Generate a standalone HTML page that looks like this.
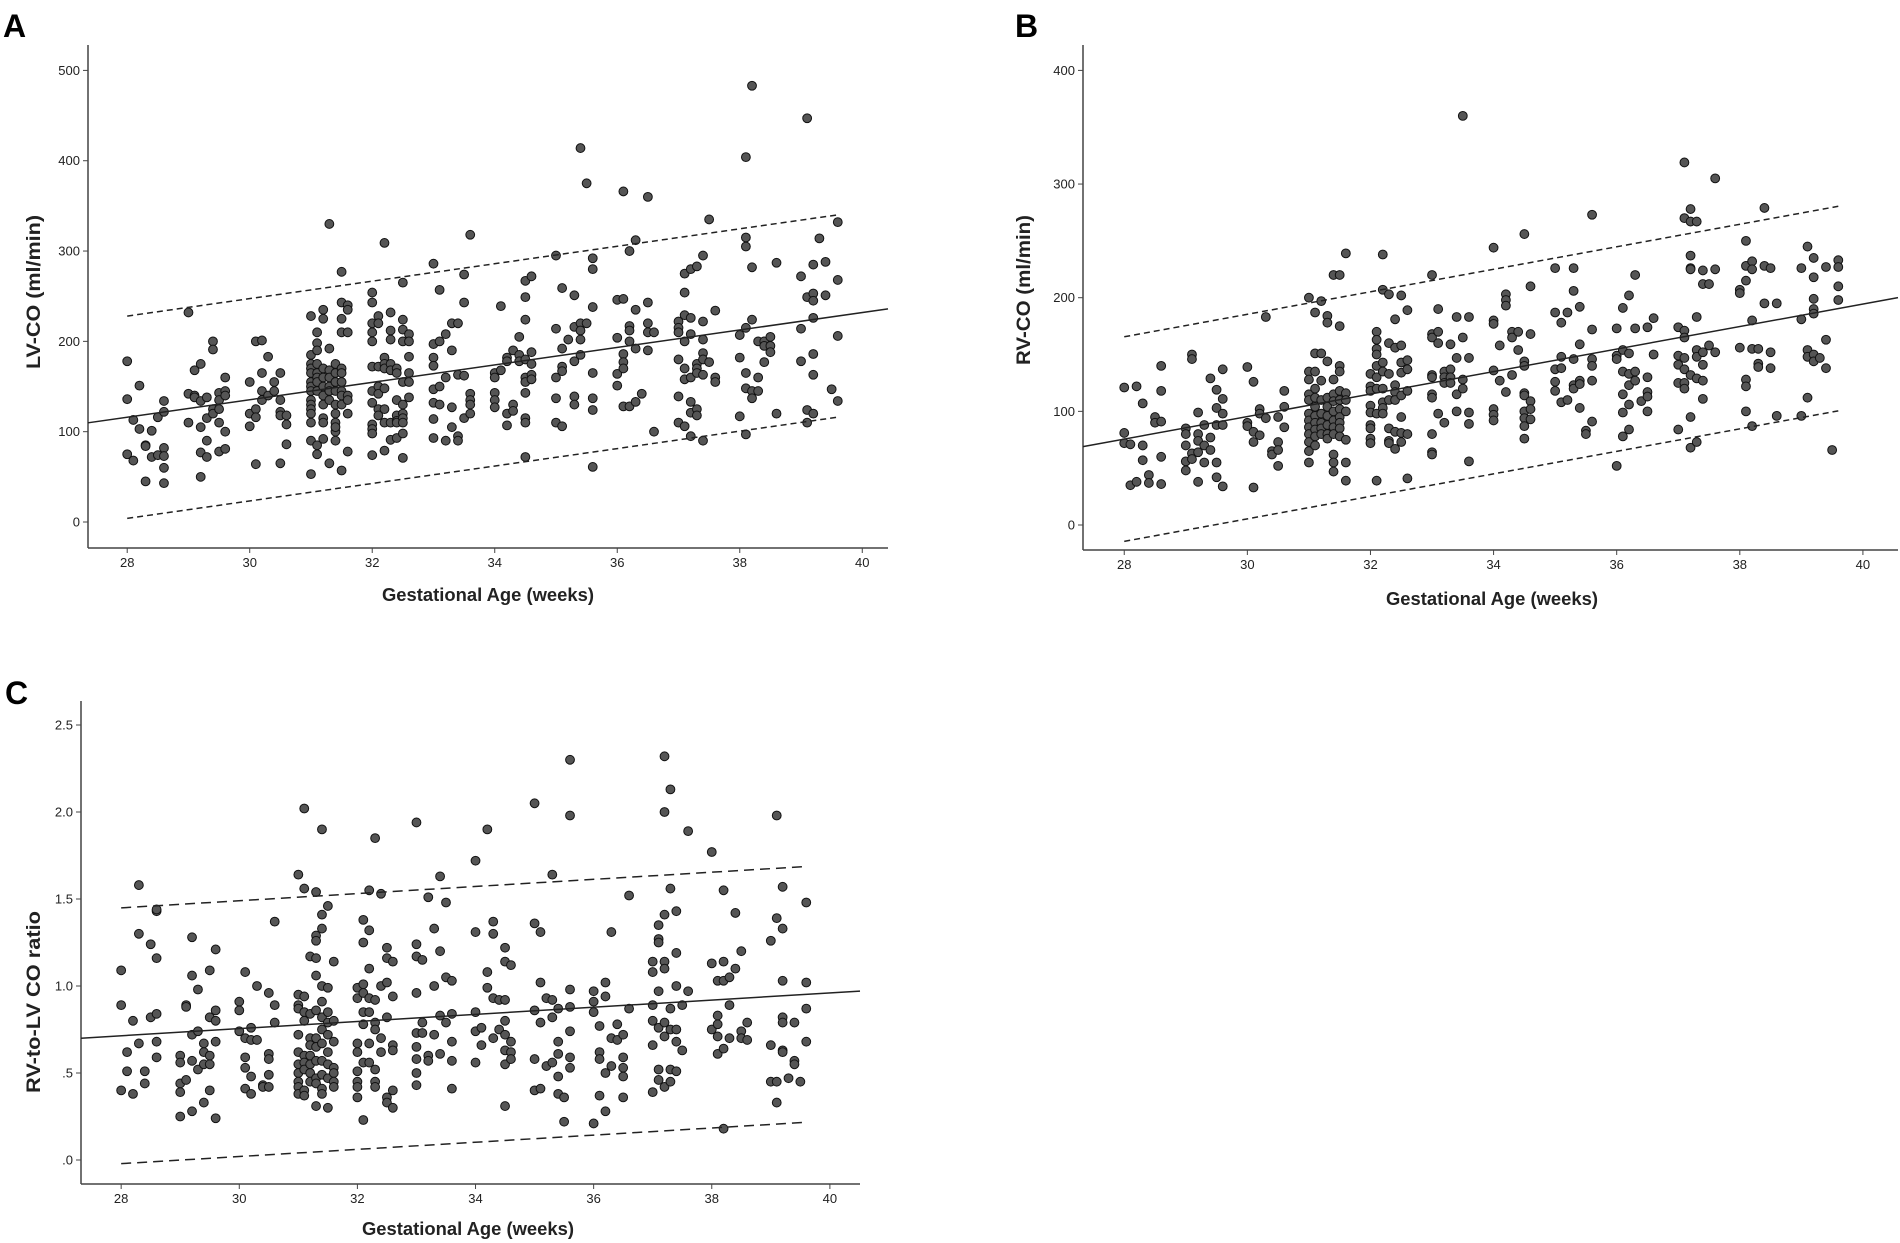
<!DOCTYPE html>
<html><head><meta charset="utf-8"><style>
html,body{margin:0;padding:0;background:#fff;}
svg{display:block;}
.tk{font-family:"Liberation Sans Narrow","Liberation Sans",sans-serif;font-size:13px;fill:#222;}
.ttl{font-family:"Liberation Sans Narrow","Liberation Sans",sans-serif;font-size:18px;font-weight:bold;fill:#222;}
.yttl{font-family:"Liberation Sans",sans-serif;font-size:19px;font-weight:bold;fill:#222;}
.pl{font-family:"Liberation Sans",sans-serif;font-size:32px;font-weight:bold;fill:#000;}
</style></head><body>
<svg id="fig" width="1900" height="1243" viewBox="0 0 1900 1243" xmlns="http://www.w3.org/2000/svg"></svg>
<script>
// ---- Panel A data (LV-CO) ----
const ageColsA=[28,28.1,28.2,28.3,28.4,28.5,28.6,29,29.1,29.2,29.3,29.4,29.5,29.6,30,30.1,30.2,30.3,30.4,30.5,30.6,31,31.1,31.2,31.3,31.4,31.5,31.6,32,32.1,32.2,32.3,32.4,32.5,32.6,33,33.1,33.2,33.3,33.4,33.5,33.6,34,34.1,34.2,34.3,34.4,34.5,34.6,35,35.1,35.2,35.3,35.4,35.5,35.6,36,36.1,36.2,36.3,36.4,36.5,36.6,37,37.1,37.2,37.3,37.4,37.5,37.6,38,38.1,38.2,38.3,38.4,38.5,38.6,39,39.1,39.2,39.3,39.4,39.5,39.6];
const valsA=[[178,136,75],[113,68],[151,103],[85,45,84],[101,72],[116,74],[134,122,82,73,60,43],[232,142,110],[168,140,138],[175,134,105,77,50],[138,115,90,72],[200,191,125,120],[143,135,125,110,78],[160,145,140,100,81],[155,120,106],[200,125,116,64],[201,165,145,135],[183,140],[155,145],[165,135,122,118,65],[118,108,86],
[228,185,175,170,165,155,150,145,135,130,125,120,110,90,53],[210,198,190,175,165,160,155,145,85,75],[235,225,170,160,150,140,130,115,110,92],[330,192,168,160,150,145,135,65],[175,165,155,145,130,120,110,100,90,105],[277,243,225,210,170,165,155,145,140,130,57],[240,235,210,140,135,120,78],
[254,243,220,210,200,172,145,132,108,103,98,74],[228,220,172,150,142,125,118],[309,182,175,170,148,125,110,79],[232,212,202,175,168,110,91],[170,165,135,118,112,110,93],[265,224,213,200,155,130,120,115,110,98,71],[208,200,183,165,155,138],
[286,197,182,173,147,132,114,93],[257,200,150,130],[208,160,90],[220,190,127,105],[220,163,95,90],[274,243,162,115],[318,142,135,130,120],
[165,160,143,135,127],[239,168],[182,178,120,107],[190,130,123],[205,185,178],[267,249,224,180,160,155,143,115,110,72],[272,188,175,163,158],
[295,214,160,137,110],[259,192,172,167,106],[202],[251,216,178,139,130],[414,220,212,202,185],[375,220],[292,280,238,165,137,124,61],
[246,204,164,151],[366,247,186,177,170,128],[300,217,212,200,128],[312,235,192,133],[142],[360,243,220,210,190],[210,100],
[222,215,210,180,139,110],[275,254,229,200,170,158,106],[280,226,208,160,133,121,95],[283,175,170,165,125,118],[295,222,202,187,180,163,90],[335,177],[234,160,155],
[207,182,117],[404,315,305,215,165,148,97],[483,282,224,145,137],[200,160,145],[200,195,177],[205,195,188],[287,120],
[272,214,178],[447,249,124,110],[285,253,245,226,186,163,120],[314],[288,251],[147],[332,268,206,134]];
const fitA=[116,9.66,112]; // value at 28 wk, slope per wk, band half-width
const yTicksA=[0,100,200,300,400,500];
const yLabelsA=["0","100","200","300","400","500"];

// ---- Panel B data (RV-CO) ----
const ageColsB=[28,28.1,28.2,28.3,28.4,28.5,28.6,29,29.1,29.2,29.3,29.4,29.5,29.6,30,30.1,30.2,30.3,30.4,30.5,30.6,31,31.1,31.2,31.3,31.4,31.5,31.6,32,32.1,32.2,32.3,32.4,32.5,32.6,33,33.1,33.2,33.3,33.4,33.5,33.6,34,34.1,34.2,34.3,34.4,34.5,34.6,35,35.1,35.2,35.3,35.4,35.5,35.6,36,36.1,36.2,36.3,36.4,36.5,36.6,37,37.1,37.2,37.3,37.4,37.5,37.6,38,38.1,38.2,38.3,38.4,38.5,38.6,39,39.1,39.2,39.3,39.4,39.5,39.6];
const valsB=[[121,81,72],[71,35],[122,38],[107,70,57],[44,37],[95,90],[140,118,91,60,36],[85,80,70,56,48],[150,146,63,58],[99,80,74,64,38],[88,70,55],[129,77,66],[119,103,88,55,42],[137,111,98,88,34],[139,90,87],[126,82,73,33],[102,98,79],[183,94],[65,62],[95,73,66,52],[118,104,86],
[200,135,128,115,110,98,92,86,80,73,65,55],[187,151,135,120,112,104,96,90,84,78,70],[197,151,127,110,98,90,85,80],[184,178,144,112,104,96,88,80,76],[220,128,115,109,100,92,86,80,62,55,47],[220,175,140,135,118,110,102,95,90,85,78],[239,116,110,100,75,55,39],
[133,122,118,105,99,88,85,76,72],[170,163,155,150,140,130,120,98,39],[238,207,143,135,120,108,103,98],[203,160,133,110,85,74,72],[181,156,123,117,110,82,67],[202,158,143,134,114,95,81,73],[189,145,137,118,80,41],
[220,168,165,132,130,115,112,80,64,62],[190,170,160,98],[135,130,125,90],[159,137,130,125],[183,147,115,100],[360,165,128,120],[183,147,99,89,56],
[244,180,177,136,102,97,92],[158,127],[203,198,193,117],[170,165,132],[170,154],[256,144,140,116,114,100,94,87,76],[210,168,109,102,93],
[226,187,137,126,118],[178,148,138,108],[187,110],[226,206,146,123,120],[192,159,127,124,103],[83,80],[273,172,146,140,127,91],
[173,149,146,52],[191,154,135,115,99,78],[202,151,133,123,106,84],[220,173,135,127],[109],[174,130,117,113,100],[182,150],
[174,149,141,125,84],[319,270,171,165,147,137,125,120],[278,267,237,226,225,132,95,68],[267,183,154,148,129,73],[224,212,152,141,127,111],[212,158],[305,225,152],
[207,204,156],[250,228,215,128,122,100],[232,225,180,155,87],[155,142,139],[279,228,195],[226,152,138],[195,96],
[226,181,96],[245,154,148,112],[235,218,199,190,186,150,144],[147],[227,163,138],[66],[233,227,210,198]];
const fitB=[75.6,9.9,90];
const yTicksB=[0,100,200,300,400];
const yLabelsB=["0","100","200","300","400"];

// ---- Panel C data (RV/LV ratio) ----
const ageColsC=[28,28.1,28.2,28.3,28.4,28.5,28.6,29,29.1,29.2,29.3,29.4,29.5,29.6,30,30.1,30.2,30.3,30.4,30.5,30.6,31,31.1,31.2,31.3,31.4,31.5,31.6,32,32.1,32.2,32.3,32.4,32.5,32.6,33,33.1,33.2,33.3,33.4,33.5,33.6,34,34.1,34.2,34.3,34.4,34.5,34.6,35,35.1,35.2,35.3,35.4,35.5,35.6,36,36.1,36.2,36.3,36.4,36.5,36.6,37,37.1,37.2,37.3,37.4,37.5,37.6,38,38.1,38.2,38.3,38.4,38.5,38.6,39,39.1,39.2,39.3,39.4,39.5,39.6];
const valsC=[[1.09,0.89,0.40],[0.62,0.51],[0.80,0.38],[1.58,1.30,0.67],[0.51,0.44],[1.24,0.82],[1.43,1.44,1.16,0.84,0.68,0.59],[0.60,0.56,0.44,0.39,0.25],[0.89,0.88,0.46],[1.28,1.06,0.72,0.57,0.28],[0.98,0.74,0.52],[0.67,0.62,0.55,0.33],[1.09,0.82,0.60,0.55,0.40],[1.21,0.86,0.80,0.68,0.24],[0.91,0.86,0.74],[1.08,0.70,0.59,0.53,0.41],[0.76,0.69,0.48,0.38],[1.00,0.69],[0.43,0.42],[0.96,0.61,0.58,0.49,0.42],[1.37,0.89,0.79],
[1.64,0.95,0.89,0.87,0.72,0.62,0.55,0.50,0.45,0.42,0.38],[2.02,1.56,0.94,0.85,0.80,0.60,0.56,0.52,0.40,0.37],[1.17,0.84,0.70,0.66,0.60,0.55,0.50,0.45],[1.54,1.29,1.26,1.16,1.06,0.86,0.70,0.65,0.57,0.47,0.44,0.31],[1.90,1.41,1.33,1.00,0.91,0.82,0.75,0.67,0.57,0.49,0.41,0.38],[1.46,0.99,0.85,0.79,0.72,0.62,0.55,0.47,0.30],[1.14,0.80,0.68,0.53,0.50,0.45,0.42],
[0.99,0.93,0.67,0.62,0.51,0.45,0.42,0.36],[1.38,1.25,1.01,0.96,0.85,0.78,0.56,0.23],[1.55,1.32,1.10,0.93,0.85,0.67,0.56],[1.85,0.92,0.79,0.75,0.52,0.45,0.42],[1.53,1.00,0.70,0.62],[1.22,1.16,1.02,0.82,0.36,0.33],[1.14,0.94,0.66,0.63,0.40,0.30],
[1.94,1.24,1.17,0.96,0.73,0.65,0.58,0.50,0.43],[1.15,0.79,0.73],[1.51,0.60,0.57],[1.33,1.00,0.72],[1.63,1.20,0.83,0.61],[1.48,1.05,0.79],[1.03,0.84,0.68,0.57,0.41],
[1.72,1.31,0.85,0.74,0.56],[0.76,0.66],[1.90,1.08,0.99],[1.37,1.30,0.93,0.70],[0.92,0.75],[1.22,1.14,0.92,0.80,0.72,0.63,0.55,0.31],[1.12,0.68,0.62,0.58],
[2.05,1.36,0.86,0.58,0.40],[1.31,1.02,0.79,0.41],[0.93,0.54],[1.64,0.92,0.82,0.56],[0.87,0.68,0.61,0.48,0.38],[0.36,0.22],[2.30,1.98,0.98,0.88,0.74,0.59,0.53],
[0.97,0.91,0.85,0.21],[0.77,0.62,0.58,0.37],[1.02,0.94,0.50,0.28],[1.31,0.70,0.54],[0.78,0.69],[0.72,0.59,0.53,0.48,0.36],[1.52,0.87],
[1.14,1.08,0.89,0.80,0.66,0.39],[1.35,1.27,1.25,0.97,0.76,0.52,0.46],[2.32,2.00,1.41,1.14,1.10,0.79,0.71,0.42],[2.13,1.56,0.87,0.75,0.52,0.45],[1.43,1.19,1.00,0.75,0.68,0.51],[0.89,0.63],[1.89,0.97],
[1.77,1.13,0.75],[1.03,0.83,0.78,0.71,0.61],[1.55,1.14,1.03,0.64,0.18],[1.05,0.89,0.70],[1.42,1.10],[1.20,0.74,0.70],[0.79,0.69],
[1.26,0.66,0.45],[1.98,1.39,0.45,0.33],[1.57,1.33,1.03,0.82,0.79,0.63,0.62],[0.47],[0.79,0.57,0.55],[0.45],[1.48,1.02,0.87,0.68]];
const fitC=[0.714,0.0205,0.735];
const yTicksC=[0,0.5,1,1.5,2,2.5];
const yLabelsC=[".0",".5","1.0","1.5","2.0","2.5"];

const xTicks=[28,30,32,34,36,38,40];
const xLabels=["28","30","32","34","36","38","40"];

const NS="http://www.w3.org/2000/svg";
const svg=document.getElementById('fig');
function mk(tag,attrs,parent){const e=document.createElementNS(NS,tag);for(const k in attrs)e.setAttribute(k,attrs[k]);(parent||svg).appendChild(e);return e;}

function panel(cfg){
  const g=mk('g',{});
  
  
  const sx=v=>cfg.px0+(v-cfg.x0)*(cfg.px1-cfg.px0)/(cfg.x1-cfg.x0);
  const sy=v=>cfg.py0+(v-cfg.y0)*(cfg.py1-cfg.py0)/(cfg.y1-cfg.y0);
  const ya=mk('line',{x1:cfg.ax,y1:cfg.atop,x2:cfg.ax,y2:cfg.ab,stroke:'#444','stroke-width':1.5},g);
  
  
  const xa=mk('line',{x1:cfg.ax,y1:cfg.ab,x2:cfg.ar,y2:cfg.ab,stroke:'#444','stroke-width':1.5},g);
  
  
  cfg.yt.forEach((t,i)=>{
    const y=sy(t);
    mk('line',{x1:cfg.ax-5,y1:y,x2:cfg.ax,y2:y,stroke:'#444','stroke-width':1},g);
    const tx=mk('text',{x:cfg.ax-8,y:y+4.5,'text-anchor':'end',class:'tk'},g);
    tx.textContent=cfg.yl[i];
    
    
  });
  xTicks.forEach((t,i)=>{
    const x=sx(t);
    mk('line',{x1:x,y1:cfg.ab,x2:x,y2:cfg.ab+5,stroke:'#444','stroke-width':1},g);
    const tx=mk('text',{x:x,y:cfg.ab+19,'text-anchor':'middle',class:'tk'},g);
    tx.textContent=xLabels[i];
    
    
  });
  cfg.cols.forEach((a,i)=>{
    cfg.vals[i].forEach(v=>{
      const c=mk('circle',{cx:sx(a),cy:sy(v),r:4.4,fill:'#555',stroke:'#111','stroke-width':1},g);
      
      
    });
  });
  const f=cfg.fit;
  const fv=x=>f[0]+f[1]*(x-28);
  const fl=mk('line',{x1:sx(cfg.x0),y1:sy(fv(cfg.x0)),x2:sx(cfg.x1),y2:sy(fv(cfg.x1)),stroke:'#222','stroke-width':1.5},g);
  
  
  [1,-1].forEach(s=>{
    const d=mk('line',{x1:sx(28),y1:sy(fv(28)+s*f[2]),x2:sx(39.6),y2:sy(fv(39.6)+s*f[2]),stroke:'#222','stroke-width':1.5,'stroke-dasharray':cfg.dash},g);
    
    
  });
  const xt=mk('text',{x:cfg.xtx,y:cfg.xty,'text-anchor':'middle',class:'ttl',textLength:212,lengthAdjust:'spacingAndGlyphs'},g);
  xt.textContent='Gestational Age (weeks)';
  
  
  const yt=mk('text',{x:0,y:0,'text-anchor':'middle',class:'yttl',textLength:cfg.ytl,lengthAdjust:'spacingAndGlyphs',transform:`translate(${cfg.ytx},${cfg.yty}) rotate(-90)`},g);
  yt.textContent=cfg.ytitle;
  
  
  const pl=mk('text',{x:cfg.lx,y:cfg.ly,class:'pl'},g);
  pl.textContent=cfg.label;
  
  
}

panel({name:'panel-a-lv-co',cols:ageColsA,vals:valsA,fit:fitA,yt:yTicksA,yl:yLabelsA,
  x0:27.36,x1:40.42,px0:88,px1:888,y0:0,y1:500,py0:522,py1:70.4,
  ax:88,ar:888,atop:45,ab:548,dash:'6,4',xtx:488,xty:601,ytx:40,yty:292,ytl:154,ytitle:'LV-CO (ml/min)',lx:3,ly:37,label:'A'});
panel({name:'panel-b-rv-co',cols:ageColsB,vals:valsB,fit:fitB,yt:yTicksB,yl:yLabelsB,
  x0:27.33,x1:40.57,px0:1083,px1:1898,y0:0,y1:400,py0:525,py1:70.4,
  ax:1083,ar:1898,atop:45,ab:550,dash:'6,4',xtx:1492,xty:605,ytx:1030,yty:290,ytl:150,ytitle:'RV-CO (ml/min)',lx:1015,ly:37,label:'B'});
panel({name:'panel-c-ratio',cols:ageColsC,vals:valsC,fit:fitC,yt:yTicksC,yl:yLabelsC,
  x0:27.32,x1:40.51,px0:81,px1:860,y0:0,y1:2.5,py0:1160,py1:725,
  ax:81,ar:860,atop:701,ab:1184,dash:'10,6',xtx:468,xty:1235,ytx:40,yty:1002,ytl:182,ytitle:'RV-to-LV CO ratio',lx:5,ly:704,label:'C'});
</script>
</body></html>
